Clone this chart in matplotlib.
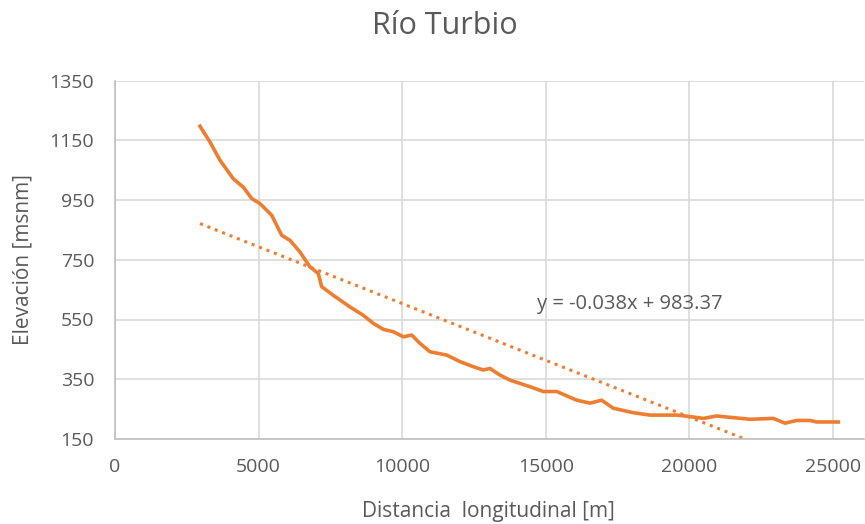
import numpy as np
import matplotlib
matplotlib.use("Agg")
import matplotlib.pyplot as plt

plt.rcParams['font.family'] = ['Open Sans', 'DejaVu Sans']

# longitudinal profile (m, msnm)
distancia = [2960, 3308, 3656, 4120, 4468, 4760, 5049, 5456, 5804, 6093,
             6441, 6789, 7080, 7195, 7601, 8183, 8647, 8995, 9343, 9692,
             10040, 10330, 10620, 10968, 11548, 12013, 12477, 12825, 13057,
             13405, 13753, 14450, 14914, 15378, 16075, 16539, 16945, 17350,
             18047, 18627, 19556, 20021, 20485, 20949, 22110, 22922, 23329,
             23735, 24199, 24431, 25186]
elevacion = [1197, 1144, 1083, 1021, 993, 955, 938, 899, 832, 815,
             776, 726, 704, 660, 631, 592, 564, 537, 517, 509,
             492, 498, 470, 442, 431, 409, 392, 381, 386,
             364, 347, 325, 309, 309, 280, 270, 280, 253,
             238, 230, 230, 225, 219, 227, 216, 219, 203,
             212, 212, 207, 207]

# linear trend as shown in the chart
pendiente = -0.038
intercepto = 983.37
x_tend = [2960, 26050]

xticks = [0, 5000, 10000, 15000, 20000, 25000]
yticks = [150, 350, 550, 750, 950, 1150, 1350]

ORANGE = "#ED7D31"
GRAY = "#595959"

fig = plt.figure(figsize=(8.65, 5.24), dpi=100)
ax = fig.add_axes([115 / 865, 1 - 439 / 524, 749 / 865, (439 - 80.5) / 524])

ax.plot(distancia, elevacion, color=ORANGE, lw=2.6, solid_joinstyle="round")
xt = np.array(x_tend, dtype=float)
ax.plot(xt, pendiente * xt + intercepto, color=ORANGE, lw=2.2,
        linestyle=(0, (1, 1.6)))
ax.text(14690, 601, "y = -0.038x + 983.37", fontsize=14.5, color=GRAY,
        va="center", ha="left")

ax.set_xlim(0, 26080)
ax.set_ylim(150, 1350)
ax.set_xticks(xticks)
ax.set_yticks(yticks)
ax.grid(True, color="#D9D9D9", lw=1.2)
ax.set_axisbelow(True)
for s in ("top", "right"):
    ax.spines[s].set_visible(False)
for s in ("left", "bottom"):
    ax.spines[s].set_color("#BFBFBF")
    ax.spines[s].set_linewidth(1.2)
ax.tick_params(axis="y", length=0, labelsize=14, labelcolor=GRAY, pad=15)
ax.tick_params(axis="x", length=0, labelsize=14, labelcolor=GRAY, pad=14)

ax.set_xlabel("Distancia  longitudinal [m]", fontsize=15, color=GRAY,
              va="center")
ax.xaxis.set_label_coords(488 / 865, 1 - 512 / 524, transform=fig.transFigure)
ax.set_ylabel("Elevación [msnm]", fontsize=15, color=GRAY, va="center")
ax.yaxis.set_label_coords(23 / 865, 1 - 260 / 524, transform=fig.transFigure)
fig.text(445 / 865, 1 - 26 / 524, "Río Turbio", fontsize=22, color=GRAY,
         ha="center", va="center")

fig.savefig("out.png", dpi=100)
